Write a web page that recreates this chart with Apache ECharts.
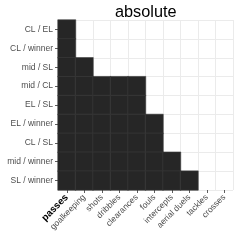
<!DOCTYPE html>
<html><head><meta charset="utf-8">
<script src="https://cdn.jsdelivr.net/npm/echarts@6/dist/echarts.min.js"></script>
<style>html,body{margin:0;padding:0;background:#fff}#c{width:240px;height:240px}</style>
</head><body><div id="c"></div>
<script>
var metrics = ['passes','goalkeeping','shots','dribbles','clearances','fouls','intercepts','aerial duels','tackles','crosses'];
var comparisons = ['CL / EL','CL / winner','mid / SL','mid / CL','EL / SL','EL / winner','CL / SL','mid / winner','SL / winner'];
// 1 = significant (filled), 0 = not, per comparison row, per metric column
var CL_EL       = [1,0,0,0,0,0,0,0,0,0];
var CL_winner   = [1,0,0,0,0,0,0,0,0,0];
var mid_SL      = [1,1,0,0,0,0,0,0,0,0];
var mid_CL      = [1,1,1,1,1,0,0,0,0,0];
var EL_SL       = [1,1,1,1,1,0,0,0,0,0];
var EL_winner   = [1,1,1,1,1,1,0,0,0,0];
var CL_SL       = [1,1,1,1,1,1,0,0,0,0];
var mid_winner  = [1,1,1,1,1,1,1,0,0,0];
var SL_winner   = [1,1,1,1,1,1,1,1,0,0];
var matrix = [CL_EL, CL_winner, mid_SL, mid_CL, EL_SL, EL_winner, CL_SL, mid_winner, SL_winner];

var cells = [];
matrix.forEach(function(row, r){
  row.forEach(function(v, c){ if (v) cells.push([metrics[c], comparisons[r], v]); });
});

var chart = echarts.init(document.getElementById('c'), null, {renderer:'canvas'});
var FONT = 'Liberation Sans';
chart.setOption({
  animation:false,
  textStyle:{fontFamily:FONT},
  title:{text:'absolute', left:115, top:5, padding:0,
    textStyle:{fontFamily:FONT, fontSize:16.3, fontWeight:'normal', color:'#000'}},
  grid:{left:58, right:7, top:20, bottom:50},
  xAxis:{type:'category', data:metrics,
    axisLine:{show:false},
    axisTick:{show:true, alignWithLabel:true, length:3, lineStyle:{color:'#333', width:0.8}},
    splitLine:{show:true, interval:0, lineStyle:{color:'#ebebeb', width:1}},
    axisLabel:{interval:0, rotate:45, margin:6, fontSize:8.5, color:'#4d4d4d', fontFamily:FONT,
      formatter:function(v){ return v==='passes' ? '{b|'+v+'}' : v; },
      rich:{b:{fontWeight:'bold', color:'#000', fontSize:9.8, fontFamily:FONT}}}
  },
  yAxis:{type:'category', data:comparisons, inverse:true,
    axisLine:{show:false},
    axisTick:{show:true, alignWithLabel:true, length:3, lineStyle:{color:'#333', width:0.8}},
    splitLine:{show:true, interval:0, lineStyle:{color:'#ebebeb', width:1}},
    axisLabel:{interval:0, margin:5, fontSize:8.5, color:'#4d4d4d', fontFamily:FONT}
  },
  series:[{type:'heatmap', data:cells,
    itemStyle:{color:'#262626', borderColor:'#3c3c3c', borderWidth:0.6},
    emphasis:{disabled:true}
  }]
});
</script></body></html>
